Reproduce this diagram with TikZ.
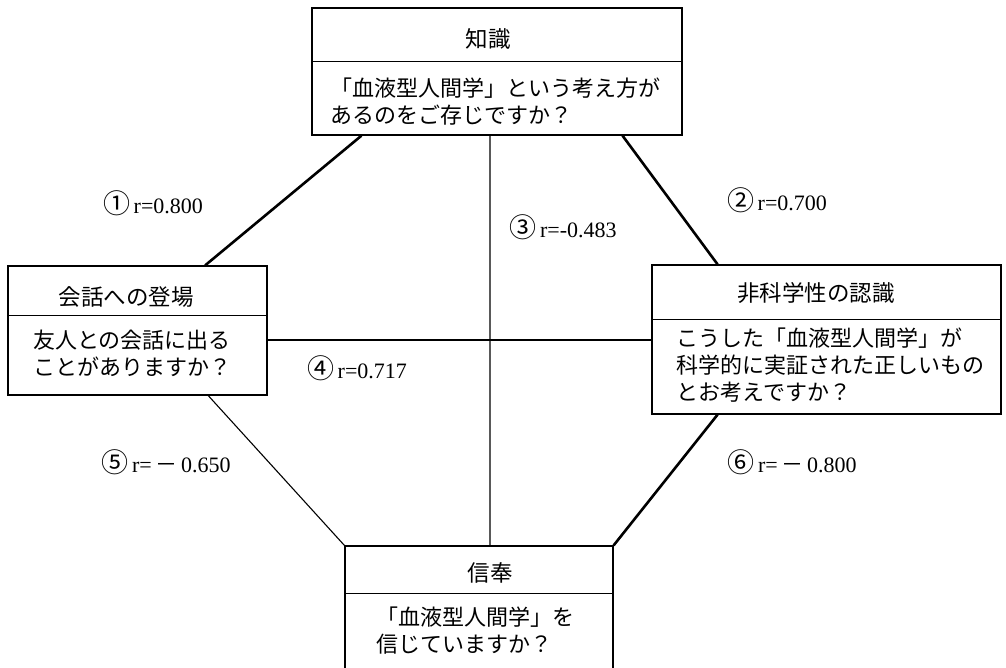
\documentclass[tikz,border=0pt]{standalone}
\usepackage{fontspec}
\setmainfont{Liberation Serif}
\newfontfamily\cjk{Noto Sans CJK JP}
\usetikzlibrary{calc}
\newcommand\circnum[1]{{\cjk\fontsize{27}{27}\selectfont #1}}
\begin{document}
\begin{tikzpicture}[x=1pt,y=-1pt,
  box/.style={draw, line width=1.3pt, rectangle, inner sep=0pt},
  divider/.style={line width=1pt},
  head/.style={font=\cjk\fontsize{22.5}{26}\selectfont, inner sep=0pt},
  body/.style={font=\cjk\fontsize{22}{27}\selectfont, align=left, anchor=west, inner sep=0pt},
  lab/.style={font=\fontsize{22}{26}\selectfont, inner sep=0pt},
  thick line/.style={line width=2.6pt},
  thin line/.style={line width=1.1pt}]
\useasboundingbox (0,0) rectangle (1006,668);
\begin{scope}
\clip (0,0) rectangle (1006,668);
% boxes
\node[box, minimum width=370pt, minimum height=127pt] (kn) at (497,71.5) {};
\node[box, minimum width=259pt, minimum height=129pt] (lb) at (137.5,330.5) {};
\node[box, minimum width=349pt, minimum height=149pt] (rb) at (826.5,339.5) {};
\node[box, minimum width=268pt, minimum height=154pt] (bb) at (479,623) {};
\end{scope}
% dividers
\draw[divider] (kn.west |- 0,62) -- (kn.east |- 0,62);
\draw[divider] (lb.west |- 0,315) -- (lb.east |- 0,315);
\draw[divider] (rb.west |- 0,319) -- (rb.east |- 0,319);
\draw[divider] (bb.west |- 0,593) -- (bb.east |- 0,593);
% headers
\node[head] (knh) at (488,39) {知識};
\node[head] (lbh) at (126,297) {会話への登場};
\node[head] (rbh) at (816,293) {非科学性の認識};
\node[head] (bbh) at (490,573) {信奉};
% bodies
\node[body] (knb) at (330,101.5) {「血液型人間学」という考え方が\\あるのをご存じですか？};
\node[body] (lbb) at (33,353.5) {友人との会話に出る\\ことがありますか？};
\node[body] (rbb) at (676,365) {こうした「血液型人間学」が\\科学的に実証された正しいもの\\とお考えですか？};
\node[body] (bbb) at (376,630.5) {「血液型人間学」を\\信じていますか？};
% anchor points
\coordinate (k1) at ($(kn.south west)!0.135!(kn.south east)$);
\coordinate (k2) at ($(kn.south west)!0.838!(kn.south east)$);
\coordinate (k3) at ($(kn.south west)!0.481!(kn.south east)$);
\coordinate (l1) at ($(lb.north west)!0.76!(lb.north east)$);
\coordinate (l5) at ($(lb.south west)!0.772!(lb.south east)$);
\coordinate (r2) at ($(rb.north west)!0.189!(rb.north east)$);
\coordinate (r6) at ($(rb.south west)!0.189!(rb.south east)$);
\coordinate (b3) at ($(bb.north west)!0.541!(bb.north east)$);
% connectors
\draw[thick line] (k1) -- (l1);
\draw[thick line] (k2) -- (r2);
\draw[thin line] (k3) -- (b3);
\draw[thick line] (lb.east |- 0,340) -- (rb.west |- 0,340);
\draw[thin line] (l5) -- (bb.north west);
\draw[thick line] (r6) -- (bb.north east);
% labels
\node[lab] (c1) at (153,203) {\circnum{①}\,r=0.800};
\node[lab] (c2) at (777,200) {\circnum{②}\,r=0.700};
\node[lab] (c3) at (563,227) {\circnum{③}\,r=-0.483};
\node[lab] (c4) at (357,368) {\circnum{④}\,r=0.717};
\node[lab] (c5) at (166,462) {\circnum{⑤}\,r=\,{\cjk －}\,0.650};
\node[lab] (c6) at (792,462) {\circnum{⑥}\,r=\,{\cjk －}\,0.800};
\end{tikzpicture}
\end{document}
